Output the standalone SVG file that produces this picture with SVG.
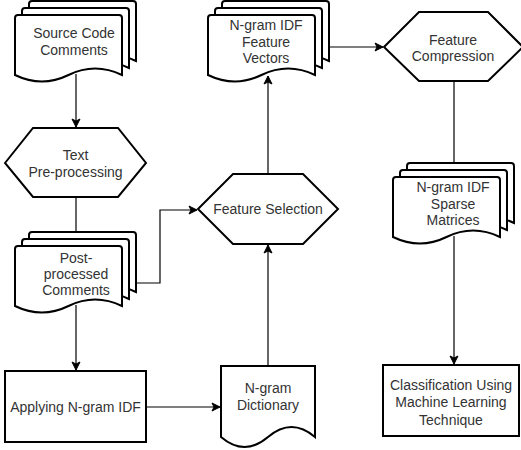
<svg xmlns="http://www.w3.org/2000/svg" width="521" height="450" viewBox="0 0 521 450">
<style>
.shape{fill:#fff;stroke:#000;stroke-width:2;stroke-linejoin:miter}
.conn{fill:none;stroke:#000;stroke-width:1.2}
text{font-family:"Liberation Sans",Arial,sans-serif;font-size:14px;fill:#333;text-anchor:middle}
</style>
<defs>
<marker id="arr" markerUnits="userSpaceOnUse" markerWidth="10" markerHeight="10" viewBox="0 0 10 10" refX="9" refY="5" orient="auto">
<path d="M1,1 L9,5 L1,9 L3,5 Z" fill="#000" stroke="#000" stroke-width="1"/>
</marker>
</defs>
<rect width="521" height="450" fill="#fff"/>

<g id="connectors">
<path class="conn" d="M76,74 V127" marker-end="url(#arr)"/>
<path class="conn" d="M76,197 V232"/>
<path class="conn" d="M76,305 V370" marker-end="url(#arr)"/>
<path class="conn" d="M136,283 H160 V210 H197" marker-end="url(#arr)"/>
<path class="conn" d="M146,407 H220" marker-end="url(#arr)"/>
<path class="conn" d="M268,366 V245" marker-end="url(#arr)"/>
<path class="conn" d="M268,174 V76" marker-end="url(#arr)"/>
<path class="conn" d="M329,47 H383" marker-end="url(#arr)"/>
<path class="conn" d="M454,81 V163"/>
<path class="conn" d="M454,236 V364" marker-end="url(#arr)"/>
</g>

<g id="source-code-comments">
<path class="shape" d="M29,61 V4 Q29,1 32,1 H133 Q136,1 136,4 V61 Q109,48 82.5,61 Q56,74 29,61 Z"/>
<path class="shape" d="M22,68 V11 Q22,8 25,8 H126 Q129,8 129,11 V68 Q102,55 75.5,68 Q49,81 22,68 Z"/>
<path class="shape" d="M15,75 V18 Q15,15 18,15 H119 Q122,15 122,18 V75 Q95,62 68.5,75 Q42,88 15,75 Z"/>
<text x="74" y="38">Source Code</text>
<text x="74" y="55">Comments</text>
</g>

<g id="text-preprocessing">
<polygon class="shape" points="5,163 33,128 118,128 146,163 118,197 33,197"/>
<text x="75.5" y="160">Text</text>
<text x="75.5" y="177">Pre-processing</text>
</g>

<g id="post-processed-comments">
<path class="shape" d="M29,292 V235 Q29,232 32,232 H133 Q136,232 136,235 V292 Q109,279 82.5,292 Q56,305 29,292 Z"/>
<path class="shape" d="M22,299 V242 Q22,239 25,239 H126 Q129,239 129,242 V299 Q102,286 75.5,299 Q49,312 22,299 Z"/>
<path class="shape" d="M15,306 V249 Q15,246 18,246 H119 Q122,246 122,249 V306 Q95,293 68.5,306 Q42,319 15,306 Z"/>
<text x="76" y="263">Post-</text>
<text x="76" y="279">processed</text>
<text x="76" y="295">Comments</text>
</g>

<g id="applying-ngram-idf">
<rect class="shape" x="5" y="371" width="141" height="71"/>
<text x="75.5" y="412">Applying N-gram IDF</text>
</g>

<g id="ngram-dictionary">
<path class="shape" d="M221,366 H315 V437 Q291.5,417 268,437 Q244.5,457 221,437 Z"/>
<text x="268" y="393">N-gram</text>
<text x="268" y="410">Dictionary</text>
</g>

<g id="feature-selection">
<polygon class="shape" points="198,209 233,174 303,174 338,209 303,244 233,244"/>
<text x="268" y="214">Feature Selection</text>
</g>

<g id="ngram-idf-feature-vectors">
<path class="shape" d="M222,61 V4 Q222,1 225,1 H326 Q329,1 329,4 V61 Q302,48 275.5,61 Q249,74 222,61 Z"/>
<path class="shape" d="M215,68 V11 Q215,8 218,8 H319 Q322,8 322,11 V68 Q295,55 268.5,68 Q242,81 215,68 Z"/>
<path class="shape" d="M208,75 V18 Q208,15 211,15 H312 Q315,15 315,18 V75 Q288,62 261.5,75 Q235,88 208,75 Z"/>
<text x="266" y="30">N-gram IDF</text>
<text x="266" y="47">Feature</text>
<text x="266" y="63">Vectors</text>
</g>

<g id="feature-compression">
<polygon class="shape" points="384,47 419,12 488,12 523,47 488,81 419,81"/>
<text x="453" y="45">Feature</text>
<text x="453" y="61">Compression</text>
</g>

<g id="ngram-idf-sparse-matrices">
<path class="shape" d="M407,223 V166 Q407,163 410,163 H511 Q514,163 514,166 V223 Q487,210 460.5,223 Q434,236 407,223 Z"/>
<path class="shape" d="M400,230 V173 Q400,170 403,170 H504 Q507,170 507,173 V230 Q480,217 453.5,230 Q427,243 400,230 Z"/>
<path class="shape" d="M393,237 V180 Q393,177 396,177 H497 Q500,177 500,180 V237 Q473,224 446.5,237 Q420,250 393,237 Z"/>
<text x="453" y="192">N-gram IDF</text>
<text x="453" y="209">Sparse</text>
<text x="453" y="225">Matrices</text>
</g>

<g id="classification">
<rect class="shape" x="383" y="365" width="136" height="71"/>
<text x="451" y="390">Classification Using</text>
<text x="451" y="407">Machine Learning</text>
<text x="451" y="425">Technique</text>
</g>
</svg>
